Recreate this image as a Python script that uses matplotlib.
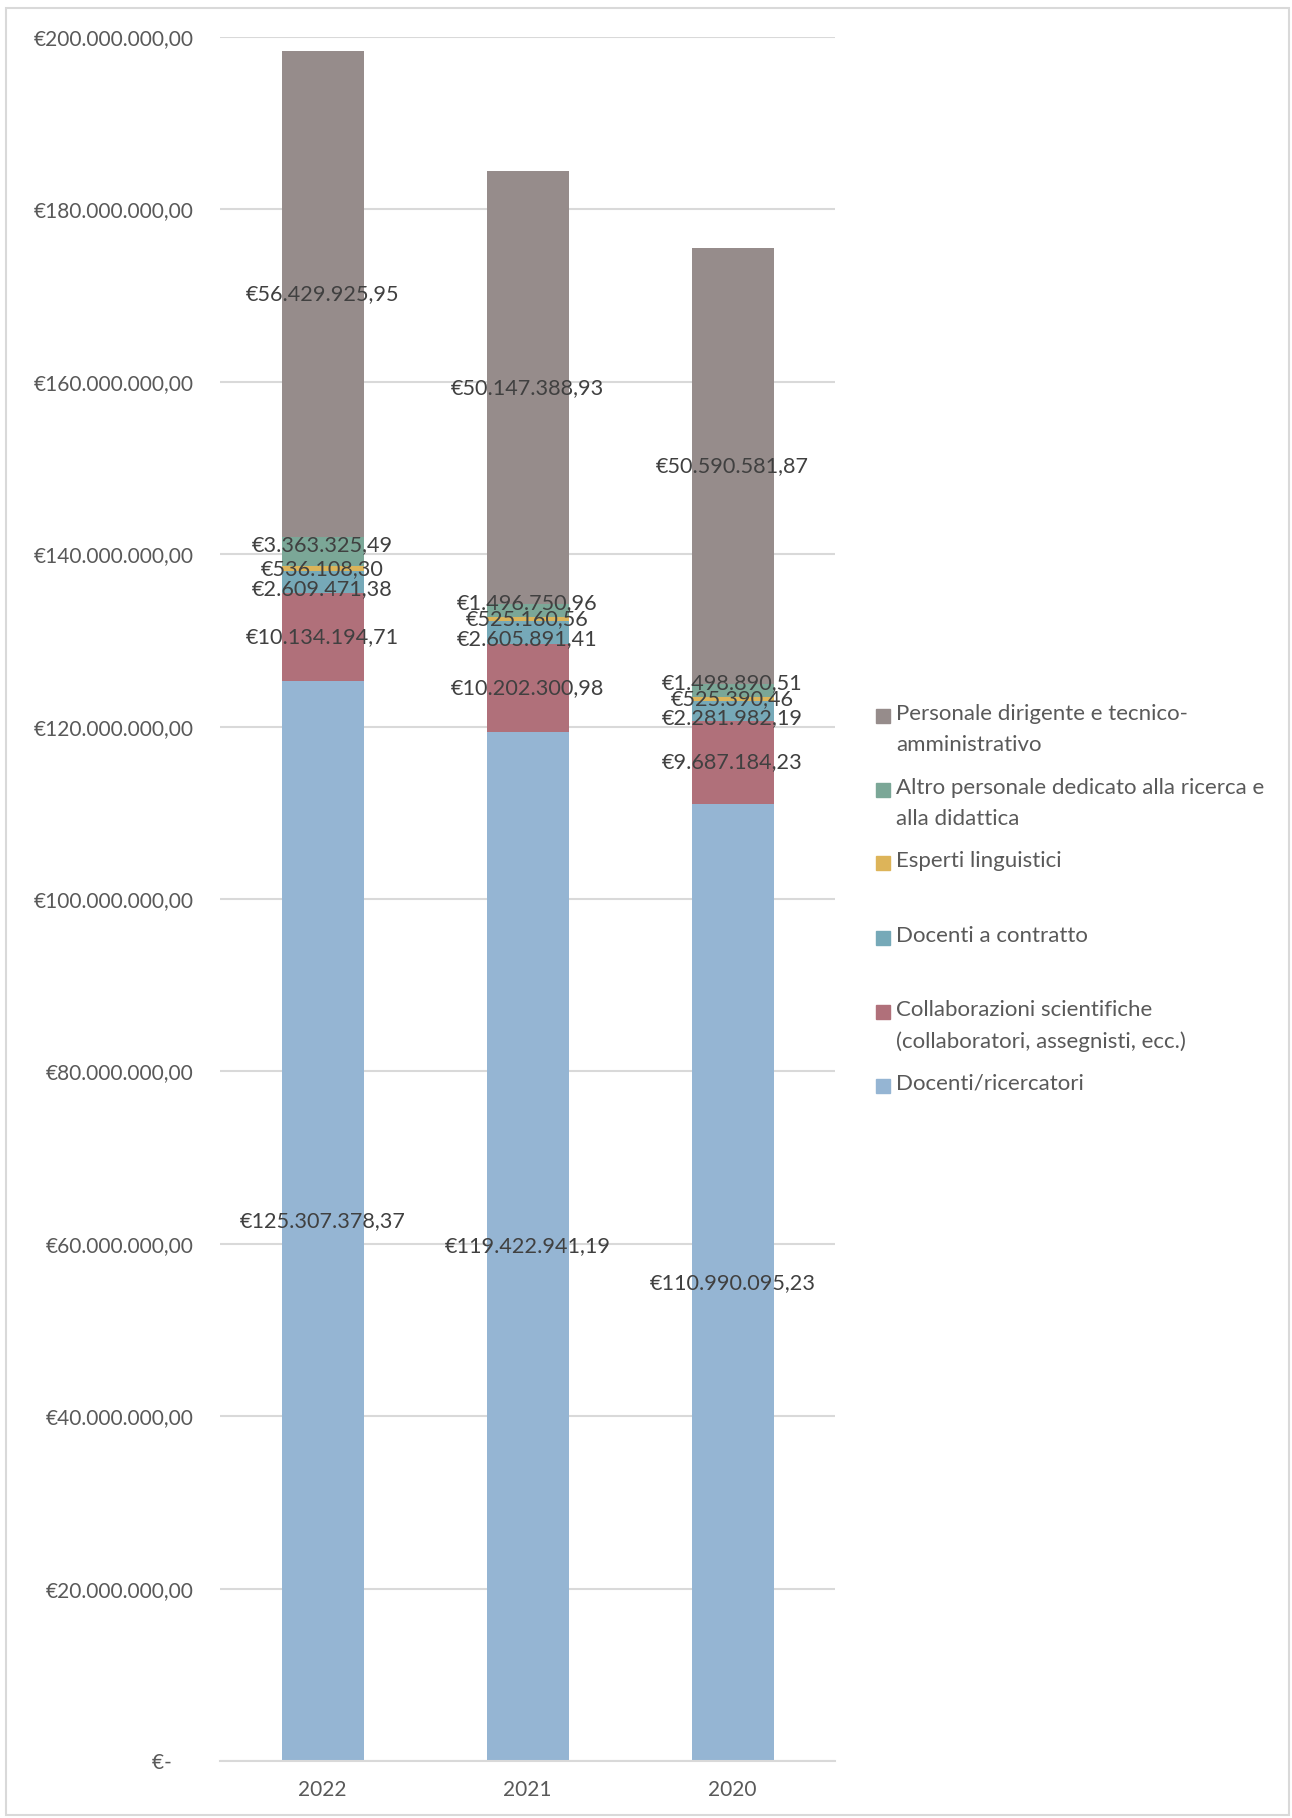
import numpy as np
import matplotlib
matplotlib.use("Agg")
from matplotlib import pyplot as plt
from matplotlib.patches import Rectangle

plt.rcParams['font.family'] = ['Lato', 'DejaVu Sans']

years = ["2022", "2021", "2020"]

# series from the bottom of the stack to the top
series_names = [
    "Docenti/ricercatori",
    "Collaborazioni scientifiche\n(collaboratori, assegnisti, ecc.)",
    "Docenti a contratto",
    "Esperti linguistici",
    "Altro personale dedicato alla ricerca e\nalla didattica",
    "Personale dirigente e tecnico-\namministrativo",
]
docenti_ricercatori = [125307378.37, 119422941.19, 110990095.23]
collaborazioni = [10134194.71, 10202300.98, 9687184.23]
docenti_contratto = [2609471.38, 2605891.41, 2281982.19]
esperti_linguistici = [536108.30, 525160.56, 525390.46]
altro_personale = [3363325.49, 1496750.96, 1498890.51]
personale_dirigente = [56429925.95, 50147388.93, 50590581.87]

series_values = [docenti_ricercatori, collaborazioni, docenti_contratto,
                 esperti_linguistici, altro_personale, personale_dirigente]
colors = ["#95B5D3", "#B0707A", "#76A9B8", "#DDB459", "#7BA797", "#968C8B"]
# small vertical nudges (points) so the thin segments' labels don't pile up
label_nudge = [0, 0, -5, 0, 5, 0]


def euro(v):
    s = f"{v:,.2f}"
    s = s.replace(",", "X").replace(".", ",").replace("X", ".")
    return "€" + s


def euro_tick(v, pos=None):
    if v == 0:
        return "€-    "
    return euro(v)


fig = plt.figure(figsize=(12.92, 18.18), dpi=100)
ax = fig.add_axes([0.1703, 0.03135, 0.476, 0.9483])

x = np.arange(len(years))
bottom = np.zeros(len(years))
for name, vals, col, nudge in zip(series_names, series_values, colors, label_nudge):
    vals = np.array(vals)
    ax.bar(x, vals, 0.4, bottom=bottom, color=col, zorder=2)
    for xi, b, v in zip(x, bottom, vals):
        ax.annotate(euro(v), (xi, b + v / 2), xytext=(0, nudge),
                    textcoords="offset points", ha="center", va="center",
                    fontsize=15.6, color="#404040", zorder=3)
    bottom = bottom + vals

ax.set_xlim(-0.5, 2.5)
ax.set_ylim(0, 200000000)
ax.set_yticks(np.arange(0, 200000001, 20000000))
ax.yaxis.set_major_formatter(plt.FuncFormatter(euro_tick))
ax.set_xticks(x)
ax.set_xticklabels(years)
ax.tick_params(axis="both", length=0, labelsize=15, labelcolor="#595959")
ax.tick_params(axis="y", pad=19)
ax.tick_params(axis="x", pad=14)
ax.grid(axis="y", color="#D9D9D9", linewidth=1.5, zorder=0)
for side in ["top", "right", "left"]:
    ax.spines[side].set_visible(False)
ax.spines["bottom"].set_color("#D9D9D9")
ax.spines["bottom"].set_linewidth(1.5)

# legend: equal slots, top entry first
W, H = 1292.0, 1818.0
slot_y = [716, 790, 863, 938, 1012, 1086]
for name, col, y in zip(series_names[::-1], colors[::-1], slot_y):
    fig.patches.append(Rectangle((876 / W, 1 - (y + 7) / H), 14 / W, 14 / H,
                                 transform=fig.transFigure, color=col))
    fig.text(896 / W, 1 - (y - 12) / H, name, ha="left", va="top",
             fontsize=16, color="#595959", linespacing=1.7)

# chart frame
fig.patches.append(Rectangle((6 / W, 3 / H), 1283 / W, 1807 / H,
                             transform=fig.transFigure, fill=False,
                             edgecolor="#D9D9D9", linewidth=1.5))

fig.savefig("out.png", dpi=100)
